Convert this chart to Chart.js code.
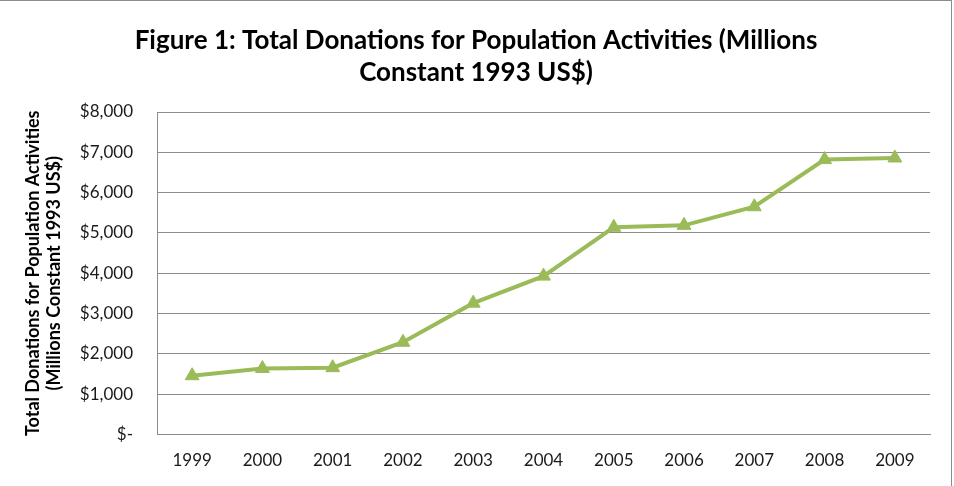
<!DOCTYPE html>
<html>
<head>
    <title>Total Donations for Population Activities</title>
    <script src="https://cdn.jsdelivr.net/npm/chart.js"></script>
    <style>
        body { margin: 0; background: #fff; overflow: hidden; }
        #wrap { position: absolute; left: -1px; top: 0; width: 951px; height: 487px; border: 1px solid #8c8c8c; }
    </style>
</head>
<body>
    <div id="wrap"><canvas id="donationsChart"></canvas></div>
    <script>
        // values, millions constant 1993 US$
        const years = ['1999', '2000', '2001', '2002', '2003', '2004', '2005', '2006', '2007', '2008', '2009'];
        const donations = [1460, 1640, 1660, 2290, 3260, 3930, 5140, 5190, 5650, 6820, 6860];
        const titleLines = ['Figure 1: Total Donations for Population Activities (Millions', 'Constant 1993 US$)'];
        const yTitleLines = ['Total Donations for Population Activities', '(Millions Constant 1993 US$)'];

        const font = "Lato, 'Open Sans', sans-serif";
        Chart.defaults.font.family = font;
        Chart.defaults.color = '#1a1a1a';

        const fmt = v => v === 0 ? '$-' : '$' + v.toLocaleString('en-US');

        new Chart(document.getElementById('donationsChart'), {
            type: 'line',
            data: {
                labels: years,
                datasets: [{
                    data: donations,
                    borderColor: '#9bbb59',
                    backgroundColor: '#9bbb59',
                    borderWidth: 4,
                    pointStyle: 'triangle',
                    pointRadius: 8,
                    pointBorderWidth: 1,
                    tension: 0
                }]
            },
            options: {
                responsive: true,
                maintainAspectRatio: false,
                animation: false,
                layout: { padding: { top: 0, right: 21, bottom: 1, left: 22 } },
                plugins: {
                    legend: { display: false },
                    tooltip: { enabled: false },
                    title: {
                        display: true,
                        text: titleLines,
                        color: '#000',
                        font: { size: 26, weight: 'bold', lineHeight: 1.25 },
                        padding: { top: 23, bottom: 23 }
                    }
                },
                scales: {
                    x: {
                        offset: true,
                        grid: { display: false, drawTicks: false },
                        border: { color: '#8c8c8c' },
                        ticks: { font: { size: 17 }, padding: 16 }
                    },
                    y: {
                        min: 0,
                        max: 8000,
                        afterFit: s => { s.width = 135; },
                        grid: { color: '#8c8c8c', drawTicks: false },
                        border: { color: '#8c8c8c' },
                        ticks: { stepSize: 1000, font: { size: 17 }, padding: 24, callback: fmt },
                        title: {
                            display: true,
                            text: yTitleLines,
                            color: '#000',
                            font: { size: 18, weight: 'bold', lineHeight: 1.2 },
                            padding: { top: 0, bottom: 13 }
                        }
                    }
                }
            }
        });
    </script>
</body>
</html>
